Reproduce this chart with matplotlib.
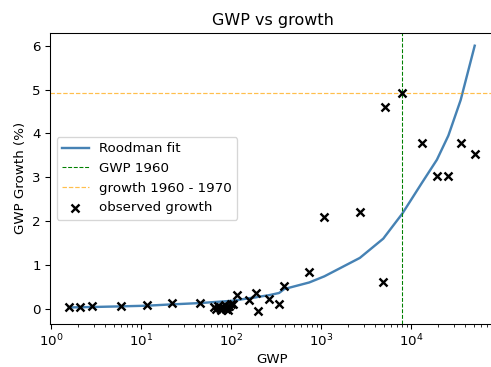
import numpy as np
import matplotlib
matplotlib.use("Agg")
import matplotlib.pyplot as plt

# Observed gross world product and its growth rate (%)
gwp_obs = [1.58, 2.1, 2.86, 6.0, 11.6, 22, 45,
           64, 68, 72, 75, 78, 82, 85, 88, 90, 93, 96, 100, 105,
           118, 158, 189, 198, 265, 342, 390, 740, 1090, 2700,
           4920, 5130, 8000, 13100, 19400, 26000, 35600, 51000]
growth_obs = [0.03, 0.04, 0.06, 0.07, 0.08, 0.14, 0.13,
              0.04, 0.0, 0.07, 0.02, -0.02, 0.05, 0.09, 0.0, 0.04, -0.03, 0.06, 0.1, 0.12,
              0.32, 0.2, 0.35, -0.05, 0.22, 0.12, 0.51, 0.85, 2.09, 2.2,
              0.6, 4.6, 4.92, 3.78, 3.03, 3.03, 3.78, 3.52]

# Roodman model evaluated at the observed GWP levels
gwp_fit = [1.58, 2.1, 2.86, 6.0, 11.6, 22, 45, 100, 118, 158, 189, 198, 265,
           342, 390, 740, 1090, 2700, 4920, 5130, 8000, 13100, 19400, 26000,
           35600, 51000]
growth_fit = [0.03, 0.035, 0.04, 0.055, 0.07, 0.1, 0.13, 0.18, 0.2, 0.24, 0.26,
              0.27, 0.31, 0.36, 0.45, 0.6, 0.74, 1.16, 1.6, 1.65, 2.17, 2.86,
              3.4, 3.95, 4.76, 6.0]

gwp_1960 = 8000
growth_1960_1970 = 4.92

DPI = 96
W, H = 491, 367
fig = plt.figure(figsize=(W / DPI, H / DPI), dpi=DPI)
left, right, top, bottom = 50, 495, 33.3, 323.5
ax = fig.add_axes([left / W, (H - bottom) / H, (right - left) / W, (bottom - top) / H])

ax.plot(gwp_fit, growth_fit, color="steelblue", lw=1.8, label="Roodman fit")
ax.axvline(gwp_1960, color="green", ls="--", lw=0.8, label="GWP 1960")
ax.axhline(growth_1960_1970, color="orange", ls="--", lw=0.9, alpha=0.7,
           label="growth 1960 - 1970")
ax.scatter(gwp_obs, growth_obs, marker="x", color="black", s=36, lw=1.8,
           label="observed growth", zorder=3)

ax.set_xscale("log")
ax.set_xlim(10 ** -0.011, 10 ** 4.933)
ax.set_ylim(-0.336, 6.283)
ax.set_yticks([0, 1, 2, 3, 4, 5, 6])

ax.set_title("GWP vs growth")
ax.set_xlabel("GWP", labelpad=3)
ax.set_ylabel("GWP Growth (%)")
ax.legend(loc="center left")

fig.savefig("out.png", dpi=DPI)
